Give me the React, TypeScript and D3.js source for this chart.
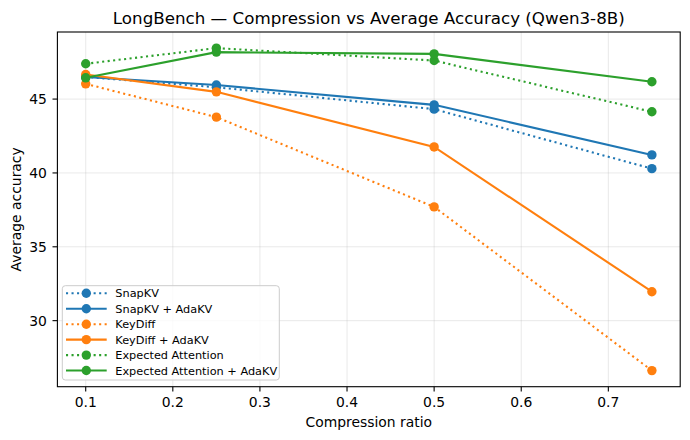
import * as d3 from "d3";
import React from "react";

const ratios = [0.1, 0.25, 0.5, 0.75];
const snapKV = [46.5, 45.8, 44.32, 40.29];
const snapKVAda = [46.5, 45.95, 44.61, 41.22];
const keyDiff = [46.03, 43.78, 37.7, 26.62];
const keyDiffAda = [46.66, 45.49, 41.76, 31.96];
const expAttn = [47.39, 48.45, 47.61, 44.14];
const expAttnAda = [46.44, 48.18, 48.06, 46.17];

const xTicks = [0.1, 0.2, 0.3, 0.4, 0.5, 0.6, 0.7];
const yTicks = [30, 35, 40, 45];

type Series = { name: string; values: number[]; color: string; dotted: boolean };

const series: Series[] = [
  { name: "SnapKV", values: snapKV, color: "#1f77b4", dotted: true },
  { name: "SnapKV + AdaKV", values: snapKVAda, color: "#1f77b4", dotted: false },
  { name: "KeyDiff", values: keyDiff, color: "#ff7f0e", dotted: true },
  { name: "KeyDiff + AdaKV", values: keyDiffAda, color: "#ff7f0e", dotted: false },
  { name: "Expected Attention", values: expAttn, color: "#2ca02c", dotted: true },
  { name: "Expected Attention + AdaKV", values: expAttnAda, color: "#2ca02c", dotted: false },
];

const W = 690, H = 440
const m = { l: 57.4, r: 680.2, t: 32, b: 386.7 }
const font = "DejaVu Sans, sans-serif"

const App: React.FC = () => {
  const allVals = series.flatMap(s => s.values)
  const xMin = d3.min(ratios)!, xMax = d3.max(ratios)!
  const yMin = d3.min(allVals)!, yMax = d3.max(allVals)!
  const xPad = (xMax - xMin) * 0.05, yPad = (yMax - yMin) * 0.05

  const x = d3.scaleLinear([xMin - xPad, xMax + xPad], [m.l, m.r])
  const y = d3.scaleLinear([yMin - yPad, yMax + yPad], [m.b, m.t])

  const line = d3.line<number>().x((_, i) => x(ratios[i])).y(d => y(d))
  const dash = "2.08 3.44"

  const lg = { x: 62.3, y: 285.7, w: 217, h: 94.3, row: 15.45 }

  return (
    <svg width={W} height={H} style={{ position: "absolute", left: 0, top: 0, background: "white" }} fontFamily={font}>
      <rect width={W} height={H} fill="white" />
      {/* grid */}
      {xTicks.map(t => <line key={"gx" + t} x1={x(t)} x2={x(t)} y1={m.t} y2={m.b} stroke="#b0b0b0" strokeOpacity={0.35} strokeWidth={0.8} />)}
      {yTicks.map(t => <line key={"gy" + t} x1={m.l} x2={m.r} y1={y(t)} y2={y(t)} stroke="#b0b0b0" strokeOpacity={0.35} strokeWidth={0.8} />)}

      {series.map(s => (
        <g key={s.name}>
          <path d={line(s.values) || ""} fill="none" stroke={s.color} strokeWidth={2.08}
            strokeDasharray={s.dotted ? dash : undefined} />
          {s.values.map((v, i) => <circle key={i} cx={x(ratios[i])} cy={y(v)} r={4.7} fill={s.color} />)}
        </g>
      ))}

      {/* spines */}
      <rect x={m.l} y={m.t} width={m.r - m.l} height={m.b - m.t} fill="none" stroke="black" strokeWidth={1.1} />

      {/* x ticks */}
      {xTicks.map(t => (
        <g key={"xt" + t}>
          <line x1={x(t)} x2={x(t)} y1={m.b} y2={m.b + 4.9} stroke="black" strokeWidth={1.1} />
          <text x={x(t)} y={m.b + 20} fontSize={13.9} textAnchor="middle">{d3.format(".1f")(t)}</text>
        </g>
      ))}
      {yTicks.map(t => (
        <g key={"yt" + t}>
          <line x1={m.l - 4.9} x2={m.l} y1={y(t)} y2={y(t)} stroke="black" strokeWidth={1.1} />
          <text x={m.l - 10.5} y={y(t) + 5} fontSize={13.9} textAnchor="end">{t}</text>
        </g>
      ))}

      <text x={(m.l + m.r) / 2} y={427} fontSize={13.9} textAnchor="middle">Compression ratio</text>
      <text transform={`translate(21, ${(m.t + m.b) / 2}) rotate(-90)`} fontSize={13.9} textAnchor="middle">Average accuracy</text>
      <text x={(m.l + m.r) / 2} y={24} fontSize={16.7} textAnchor="middle">LongBench — Compression vs Average Accuracy (Qwen3-8B)</text>

      {/* legend */}
      <rect x={lg.x} y={lg.y} width={lg.w} height={lg.h} rx={3} fill="white" fillOpacity={0.8} stroke="#cccccc" strokeWidth={1} />
      {series.map((s, i) => {
        const cy = lg.y + 7.6 + i * lg.row
        return (
          <g key={"lg" + s.name}>
            <line x1={66} x2={106.7} y1={cy} y2={cy} stroke={s.color} strokeWidth={2.08} strokeDasharray={s.dotted ? dash : undefined} />
            <circle cx={86.3} cy={cy} r={4.7} fill={s.color} />
            <text x={115.3} y={cy + 4} fontSize={11.3}>{s.name}</text>
          </g>
        )
      })}
    </svg>
  )
}

export default App
